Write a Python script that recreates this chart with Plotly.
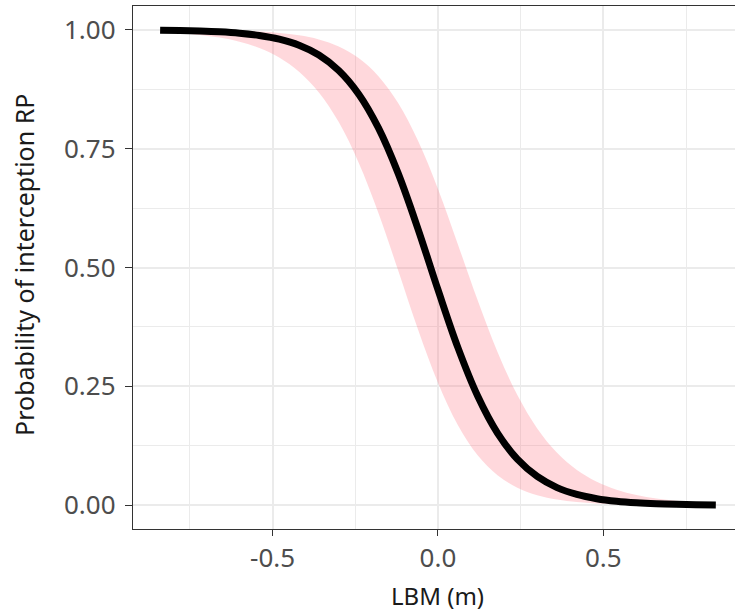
import plotly.graph_objects as go

# LBM (m)
lbm = [-0.84, -0.78, -0.72, -0.66, -0.60, -0.54, -0.48, -0.42, -0.36, -0.30,
       -0.24, -0.18, -0.12, -0.06, 0.00, 0.06, 0.12, 0.18, 0.24, 0.30,
       0.36, 0.42, 0.48, 0.54, 0.60, 0.66, 0.72, 0.78, 0.84]

# fitted probability of interception RP
prob_fit = [0.9991, 0.9984, 0.9974, 0.9957, 0.9928, 0.9880, 0.9802, 0.9674, 0.9469, 0.9144,
            0.8650, 0.7935, 0.6974, 0.5804, 0.4533, 0.3320, 0.2297, 0.1517, 0.0969, 0.0605,
            0.0371, 0.0226, 0.0137, 0.0083, 0.0050, 0.0030, 0.0018, 0.0011, 0.0007]

# confidence band
prob_lower = [0.9953, 0.9929, 0.9892, 0.9835, 0.9749, 0.9617, 0.9417, 0.9119, 0.8682, 0.8058,
              0.7211, 0.6147, 0.4930, 0.3689, 0.2575, 0.1687, 0.1051, 0.0631, 0.0368, 0.0211,
              0.0119, 0.0067, 0.0037, 0.0020, 0.0011, 0.0006, 0.0003, 0.0002, 0.0001]
prob_upper = [0.9998, 0.9997, 0.9994, 0.9989, 0.9980, 0.9963, 0.9934, 0.9884, 0.9797, 0.9650,
              0.9407, 0.9025, 0.8452, 0.7659, 0.6649, 0.5491, 0.4310, 0.3224, 0.2316, 0.1615,
              0.1102, 0.0741, 0.0494, 0.0328, 0.0217, 0.0143, 0.0095, 0.0062, 0.0041]

x_tick_vals = [-0.5, 0.0, 0.5]
x_tick_text = ["-0.5", "0.0", "0.5"]
y_tick_vals = [0.00, 0.25, 0.50, 0.75, 1.00]
y_tick_text = ["0.00", "0.25", "0.50", "0.75", "1.00"]

x_title = "LBM (m)"
y_title = "Probability of interception RP"

FONT = "Noto Sans, Liberation Sans, Arial, sans-serif"
GRID = "#EBEBEB"

fig = go.Figure()
fig.add_trace(go.Scatter(x=lbm, y=prob_lower, mode="lines", line=dict(width=0, shape="spline"),
                         showlegend=False, hoverinfo="skip"))
fig.add_trace(go.Scatter(x=lbm, y=prob_upper, mode="lines", line=dict(width=0, shape="spline"),
                         fill="tonexty", fillcolor="rgba(255,105,120,0.26)",
                         showlegend=False, hoverinfo="skip"))
fig.add_trace(go.Scatter(x=lbm, y=prob_fit, mode="lines",
                         line=dict(color="black", width=7, shape="spline"),
                         showlegend=False))

fig.update_layout(
    width=735, height=613,
    margin=dict(l=133, r=0, t=6, b=84),
    paper_bgcolor="white", plot_bgcolor="white",
    font=dict(family=FONT, size=26, color="#4D4D4D"),
    xaxis=dict(range=[-0.922, 0.898], tickvals=x_tick_vals, ticktext=x_tick_text,
               showgrid=True, gridcolor=GRID, gridwidth=1.6,
               minor=dict(tickvals=[-0.75, -0.25, 0.25, 0.75], showgrid=True,
                          gridcolor=GRID, gridwidth=1.0, ticks=""),
               showline=True, linecolor="#333333", linewidth=1.4, mirror=True,
               ticks="outside", ticklen=6, tickwidth=1.4, tickcolor="#333333",
               zeroline=False, tickfont=dict(size=26, color="#4D4D4D")),
    yaxis=dict(range=[-0.05, 1.05], tickvals=y_tick_vals, ticktext=y_tick_text,
               showgrid=True, gridcolor=GRID, gridwidth=1.6,
               minor=dict(tickvals=[0.125, 0.375, 0.625, 0.875], showgrid=True,
                          gridcolor=GRID, gridwidth=1.0, ticks=""),
               showline=True, linecolor="#333333", linewidth=1.4,
               ticks="outside", ticklen=7, tickwidth=1.4, tickcolor="#333333",
               ticklabelstandoff=4,
               zeroline=False, tickfont=dict(size=26, color="#4D4D4D")),
    annotations=[
        dict(text=x_title, xref="paper", yref="paper", x=0.506, y=-0.128,
             xanchor="center", yanchor="middle", showarrow=False,
             font=dict(family=FONT, size=24, color="#1a1a1a")),
        dict(text=y_title, xref="paper", yref="paper", x=-0.181, y=0.505,
             xanchor="center", yanchor="middle", textangle=-90, showarrow=False,
             font=dict(family=FONT, size=25, color="#1a1a1a")),
    ],
)

fig.write_html("out.html", config={"displayModeBar": False},
               post_script="document.body.style.margin='0';document.body.style.overflow='hidden';")
